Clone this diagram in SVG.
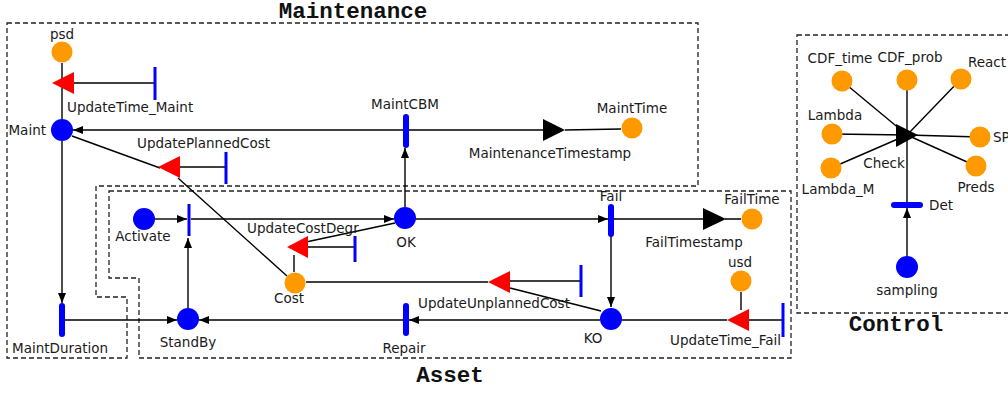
<svg xmlns="http://www.w3.org/2000/svg" width="1008" height="394" viewBox="0 0 1008 394">
<style>
text{font-family:"DejaVu Sans","Liberation Sans",sans-serif;font-size:13.5px;fill:#1a1a1a}
.t{text-anchor:middle}
.title{font-family:"Liberation Mono","DejaVu Sans Mono",monospace;font-weight:bold;font-size:22.5px;fill:#111;text-anchor:middle}
.box{fill:none;stroke:#222;stroke-width:1.3;stroke-dasharray:5,3}
.pb{fill:#0000ff}
.po{fill:#ff9900}
.it{stroke:#0000ff;stroke-width:3}
.tt{stroke:#0000ff;stroke-width:6;stroke-linecap:round}
.red{fill:#ff0000}
.blk{fill:#000}
.c{fill:none;stroke:#000;stroke-width:1.4}
.a{marker-end:url(#ah)}
</style>
<defs>
<marker id="ah" markerWidth="10" markerHeight="8" refX="10" refY="4" orient="auto" markerUnits="userSpaceOnUse"><path d="M0,0 L10,4 L0,8 z" fill="#000"/></marker>
</defs>
<rect width="1008" height="394" fill="#fff"/>
<g id="regions">
<path class="box" d="M7,23 H698 V186 H96 V297 H127 V358 H7 Z"/>
<path class="box" d="M109,191 H791 V358 H139 V278 H109 Z"/>
<path class="box" d="M797,35 H1012 V313 H797 Z"/>
<text class="title" x="353" y="18">Maintenance</text>
<text class="title" x="450" y="382">Asset</text>
<text class="title" x="896" y="331">Control</text>
</g>
<g id="connectors">
<path class="c" d="M62,63 V119"/>
<path class="c" d="M155,83 H74"/>
<path class="c a" d="M403,130 H73"/>
<path class="c" d="M409,130 H543 M565,130 L621,129"/>
<path class="c a" d="M405,207 V148"/>
<path class="c" d="M72,136 L160,168 M178,178 L287,276"/>
<path class="c" d="M226,167 H180"/>
<path class="c a" d="M62,141 V303"/>
<path class="c a" d="M62,320 H177"/>
<path class="c a" d="M406,320 H199"/>
<path class="c a" d="M600,320 H409"/>
<path class="c a" d="M155,219 H187"/>
<path class="c a" d="M188,308 V238"/>
<path class="c a" d="M191,219 H394"/>
<path class="c a" d="M416,219 H608"/>
<path class="c" d="M614,219 H703 M725,219 H741"/>
<path class="c a" d="M611,236 V307"/>
<path class="c" d="M355,247 H308"/>
<path class="c" d="M306,242 L395,223"/>
<path class="c" d="M294,272 V255"/>
<path class="c" d="M306,282 H488"/>
<path class="c" d="M581,281 H510"/>
<path class="c" d="M601,311 L510,288"/>
<path class="c" d="M622,320 H727"/>
<path class="c" d="M783,320 H749"/>
<path class="c" d="M741,292 V310"/>
<path class="c" d="M842,81 L907,135 M907,80 V135 M961,79 L907,135 M832,134 L907,135 M980,137 L907,135 M831,168 L907,135 M976,166 L907,135 M907,205 V135"/>
<path class="c a" d="M907,256 V208"/>
</g>
<g id="psd"><circle class="po" cx="62" cy="52" r="10.5"/><text class="t" x="62" y="39">psd</text></g>
<g id="Maint"><circle class="pb" cx="62" cy="130" r="11"/><text x="46" y="135" text-anchor="end">Maint</text></g>
<g id="UpdateTime_Maint"><line class="it" x1="155" y1="67" x2="155" y2="100"/><polygon class="red" points="52,83 74,72 74,94"/><text x="67" y="112">UpdateTime_Maint</text></g>
<g id="MaintCBM"><line class="tt" x1="406" y1="117" x2="406" y2="145"/><text class="t" x="405" y="109">MaintCBM</text></g>
<g id="MaintenanceTimestamp"><polygon class="blk" points="543,119 565,130 543,141"/><text class="t" x="550" y="158">MaintenanceTimestamp</text></g>
<g id="MaintTime"><circle class="po" cx="632" cy="128" r="10.5"/><text class="t" x="632" y="113">MaintTime</text></g>
<g id="UpdatePlannedCost"><line class="it" x1="226" y1="152" x2="226" y2="184"/><polygon class="red" points="158,167 180,156 180,178"/><text x="137" y="148">UpdatePlannedCost</text></g>
<g id="Activate"><circle class="pb" cx="144" cy="219" r="11"/><text class="t" x="143" y="241">Activate</text></g>
<g id="ActivateT"><line class="it" x1="189" y1="204" x2="189" y2="236"/></g>
<g id="UpdateCostDegr"><line class="it" x1="355" y1="236" x2="355" y2="262"/><polygon class="red" points="287,247 308,236 308,258"/><text x="247" y="233">UpdateCostDegr</text></g>
<g id="OK"><circle class="pb" cx="405" cy="218" r="11"/><text class="t" x="406" y="247">OK</text></g>
<g id="Fail"><line class="tt" x1="611" y1="207" x2="611" y2="234"/><text class="t" x="611" y="201">Fail</text></g>
<g id="FailTimestamp"><polygon class="blk" points="703,208 726,219 703,230"/><text class="t" x="694" y="247">FailTimestamp</text></g>
<g id="FailTime"><circle class="po" cx="752" cy="219" r="10.5"/><text class="t" x="752" y="204">FailTime</text></g>
<g id="Cost"><circle class="po" cx="295" cy="283" r="10.5"/><text class="t" x="289" y="303">Cost</text></g>
<g id="UpdateUnplannedCost"><line class="it" x1="581" y1="265" x2="581" y2="297"/><polygon class="red" points="488,282 510,271 510,293"/><text x="418" y="308">UpdateUnplannedCost</text></g>
<g id="KO"><circle class="pb" cx="611" cy="319" r="11"/><text class="t" x="593" y="343">KO</text></g>
<g id="usd"><circle class="po" cx="741" cy="281" r="10.5"/><text class="t" x="740" y="267">usd</text></g>
<g id="UpdateTime_Fail"><line class="it" x1="783" y1="303" x2="783" y2="337"/><polygon class="red" points="727,320 749,309 749,331"/><text x="670" y="345">UpdateTime_Fail</text></g>
<g id="Repair"><line class="tt" x1="406" y1="306" x2="406" y2="333"/><text class="t" x="404" y="353">Repair</text></g>
<g id="StandBy"><circle class="pb" cx="188" cy="319" r="11"/><text class="t" x="188" y="347">StandBy</text></g>
<g id="MaintDuration"><line class="tt" x1="62" y1="306" x2="62" y2="334"/><text x="12" y="353">MaintDuration</text></g>
<g id="CDF_time"><circle class="po" cx="842" cy="81" r="10.5"/><text class="t" x="840" y="63">CDF_time</text></g>
<g id="CDF_prob"><circle class="po" cx="907" cy="80" r="10.5"/><text class="t" x="910" y="62">CDF_prob</text></g>
<g id="React"><circle class="po" cx="961" cy="79" r="10.5"/><text x="968" y="67">React</text></g>
<g id="Lambda"><circle class="po" cx="832" cy="134" r="10.5"/><text class="t" x="835" y="120">Lambda</text></g>
<g id="SP"><circle class="po" cx="980" cy="137" r="10.5"/><text x="993" y="142">SP</text></g>
<g id="Lambda_M"><circle class="po" cx="831" cy="168" r="10.5"/><text class="t" x="838" y="194">Lambda_M</text></g>
<g id="Preds"><circle class="po" cx="976" cy="166" r="10.5"/><text class="t" x="976" y="192">Preds</text></g>
<g id="Check"><polygon class="blk" points="896,124 918,135 896,147"/><text class="t" x="884" y="168">Check</text></g>
<g id="Det"><line class="tt" x1="894" y1="205" x2="920" y2="205"/><text x="929" y="210">Det</text></g>
<g id="sampling"><circle class="pb" cx="907" cy="267" r="11"/><text class="t" x="907" y="295">sampling</text></g>
</svg>
